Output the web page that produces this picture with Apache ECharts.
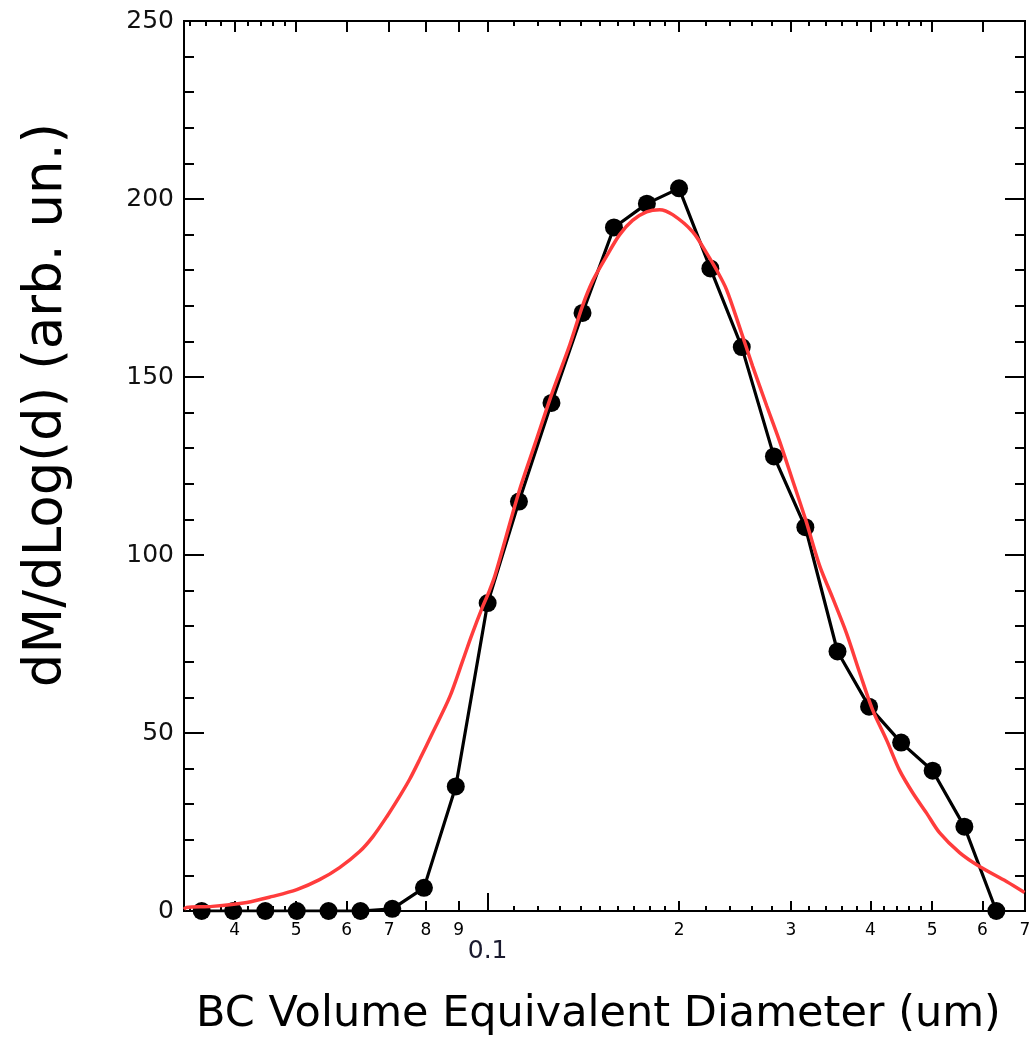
<!DOCTYPE html>
<html>
<head>
<meta charset="utf-8">
<script src="https://cdn.jsdelivr.net/npm/echarts@6/dist/echarts.min.js"></script>
<style>
html,body{margin:0;padding:0;background:#fff;}
#chart{width:1036px;height:1047px;}
</style>
</head>
<body>
<div id="chart"></div>
<script>
// Measured BC mass size distribution (black dots)
const diameters = [0.0355, 0.0398, 0.0447, 0.0501, 0.0562, 0.0631, 0.0708, 0.0794, 0.0891, 0.1, 0.112, 0.126, 0.141, 0.158, 0.178, 0.2, 0.224, 0.251, 0.282, 0.316, 0.355, 0.398, 0.447, 0.501, 0.562, 0.631];
const measured = [0, 0, 0, 0, 0, 0, 0.6, 6.5, 35, 86.5, 115, 142.7, 168, 192, 198.7, 203, 180.5, 158.4, 127.7, 107.8, 72.9, 57.4, 47.3, 39.4, 23.7, 0];

// Fitted curve (red)
const fitDiameters = [0.0333, 0.0336, 0.0369, 0.0418, 0.0459, 0.0501, 0.0544, 0.0585, 0.0629, 0.0660, 0.0694, 0.0727, 0.0754, 0.0782, 0.0819, 0.0872, 0.0914, 0.0944, 0.0982, 0.1004, 0.1026, 0.1119, 0.1186, 0.1260, 0.1346, 0.1410, 0.1463, 0.1539, 0.1613, 0.1690, 0.1778, 0.1864, 0.1954, 0.2101, 0.2210, 0.2292, 0.2376, 0.2490, 0.2611, 0.2746, 0.2878, 0.3017, 0.3162, 0.3327, 0.3487, 0.3668, 0.3846, 0.4031, 0.4241, 0.4445, 0.4658, 0.4901, 0.5136, 0.5523, 0.5937, 0.6546, 0.6988];
const fitValues = [0.5, 1.0, 1.3, 2.4, 4.1, 6.0, 8.8, 12.2, 16.7, 20.9, 26.5, 32.2, 37, 42.6, 50, 60.2, 70.4, 77.5, 85.5, 89.5, 94, 117.5, 131, 145, 159, 170, 177, 184, 190, 194, 196.4, 197, 195.6, 190.8, 184.8, 180, 174.5, 164, 153, 142, 132, 121, 110, 97, 88, 78, 67, 56.5, 48, 39.5, 33.3, 27.5, 22, 16.4, 12.5, 8.3, 5.2];

// Axis ticks
const xMin = 0.0333, xMax = 0.7;
const labelTicks = [0.04, 0.05, 0.06, 0.07, 0.08, 0.09, 0.1, 0.2, 0.3, 0.4, 0.5, 0.6, 0.7];
const labelTexts = ['4', '5', '6', '7', '8', '9', '0.1', '2', '3', '4', '5', '6', '7'];
const decadeTicks = [0.1];
const minorTicks = [0.034, 0.036, 0.038, 0.042, 0.044, 0.046, 0.048, 0.11, 0.12, 0.13, 0.14, 0.15, 0.16, 0.17, 0.18, 0.19, 0.22, 0.24, 0.26, 0.28, 0.32, 0.34, 0.36, 0.38, 0.42, 0.44, 0.46, 0.48];
const yMin = 0, yMax = 250, yStep = 50;

const L = Math.log10;
const FONT = 'DejaVu Sans';

function labelFor(v) {
  let best = 0, bd = Infinity;
  labelTicks.forEach((t, i) => { const d = Math.abs(L(t) - v); if (d < bd) { bd = d; best = i; } });
  const s = labelTexts[best];
  return s === '0.1' ? '{big|' + s + '}' : '{sm|' + s + '}';
}

function tickAxis(pos, ticks, len, withLabels) {
  return {
    type: 'value', position: pos, min: L(xMin), max: L(xMax),
    axisLine: { show: false }, splitLine: { show: false },
    axisTick: { show: true, inside: true, length: len, lineStyle: { color: '#000', width: 2 }, customValues: ticks.map(L) },
    axisLabel: withLabels ? {
      show: true, margin: 11, customValues: ticks.map(L), formatter: labelFor,
      fontFamily: FONT, fontSize: 17, color: '#000',
      rich: {
        sm: { fontFamily: FONT, fontSize: 17, color: '#000' },
        big: { fontFamily: FONT, fontSize: 25, color: '#1a1a2e', padding: [17, 0, 0, 0] }
      }
    } : { show: false }
  };
}

function yAx(pos, labels) {
  return {
    type: 'value', position: pos, min: yMin, max: yMax, interval: yStep,
    axisLine: { show: false }, splitLine: { show: false },
    axisTick: { show: true, inside: true, length: 20, lineStyle: { color: '#000', width: 2 } },
    minorTick: { show: true, splitNumber: 5, length: 10, lineStyle: { color: '#000', width: 2 } },
    minorSplitLine: { show: false },
    axisLabel: labels ? { show: true, margin: 10, fontFamily: FONT, fontSize: 25, color: '#111' } : { show: false }
  };
}

const chart = echarts.init(document.getElementById('chart'), null, { renderer: 'canvas' });
const yLeft = yAx('left', true);
yLeft.name = 'dM/dLog(d) (arb. un.)';
yLeft.nameLocation = 'middle';
yLeft.nameGap = 110;
yLeft.nameTextStyle = { fontFamily: FONT, fontSize: 53, color: '#000', padding: [0, 0, 0, 122] };

chart.setOption({
  animation: false,
  backgroundColor: '#fff',
  grid: { left: 184, right: 11, top: 21, bottom: 136, show: true, borderColor: '#000', borderWidth: 2, backgroundColor: 'transparent', outerBoundsMode: 'none', containLabel: false },
  xAxis: [
    {
      type: 'log', logBase: 10, min: xMin, max: xMax, position: 'bottom',
      axisLine: { show: false }, axisTick: { show: false }, axisLabel: { show: false }, splitLine: { show: false },
      name: 'BC Volume Equivalent Diameter (um)', nameLocation: 'middle', nameGap: 82,
      nameTextStyle: { fontFamily: FONT, fontSize: 43, color: '#000', padding: [0, 12, 0, 0] }
    },
    tickAxis('bottom', labelTicks, 10, true),
    tickAxis('bottom', decadeTicks, 18, false),
    tickAxis('bottom', minorTicks, 5, false),
    tickAxis('top', labelTicks, 11, false),
    tickAxis('top', minorTicks, 5, false)
  ],
  yAxis: [yLeft, yAx('right', false)],
  series: [
    {
      type: 'line', xAxisIndex: 0, yAxisIndex: 0,
      data: diameters.map((d, i) => [d, measured[i]]),
      symbol: 'circle', symbolSize: 18, showSymbol: true,
      itemStyle: { color: '#000' },
      lineStyle: { color: '#000', width: 3.2 },
      z: 2
    },
    {
      type: 'line', xAxisIndex: 0, yAxisIndex: 0,
      data: fitDiameters.map((d, i) => [d, fitValues[i]]),
      symbol: 'none', smooth: 0.3,
      lineStyle: { color: '#ff3c3c', width: 3.5 },
      z: 3
    }
  ]
});
</script>
</body>
</html>
